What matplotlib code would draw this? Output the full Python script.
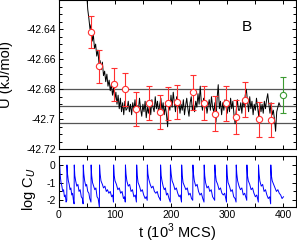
import matplotlib
matplotlib.use("Agg")
import matplotlib.pyplot as plt
import numpy as np
from matplotlib.ticker import MultipleLocator, FuncFormatter

plt.rcParams["font.family"] = ["Liberation Sans", "DejaVu Sans"]
plt.rcParams["mathtext.fontset"] = "custom"
plt.rcParams["mathtext.rm"] = "Liberation Sans"
plt.rcParams["axes.unicode_minus"] = False

# energy trace (top panel), t in 10^3 MCS
t_energy = np.arange(50, 396, 2)
u_energy = [
    -42.616, -42.627, -42.633, -42.640, -42.637, -42.648, -42.644, -42.653, -42.650, -42.658,
    -42.654, -42.663, -42.661, -42.667, -42.662, -42.671, -42.668, -42.675, -42.670, -42.678,
    -42.674, -42.681, -42.677, -42.684, -42.679, -42.687, -42.682, -42.690, -42.684, -42.693,
    -42.686, -42.695, -42.689, -42.697, -42.688, -42.694,
    -42.693, -42.688, -42.695, -42.690, -42.697, -42.689, -42.694, -42.687, -42.696, -42.691,
    -42.694, -42.686, -42.693, -42.698, -42.690, -42.695, -42.688, -42.699, -42.692, -42.696,
    -42.689, -42.697, -42.687, -42.692, -42.695, -42.685, -42.693, -42.688, -42.696, -42.690,
    -42.686, -42.694, -42.689, -42.697, -42.691, -42.697, -42.705, -42.690, -42.694, -42.684,
    -42.692, -42.682, -42.689, -42.695, -42.685, -42.693, -42.688, -42.696, -42.690, -42.694,
    -42.687, -42.697, -42.691, -42.686, -42.693, -42.698, -42.689, -42.685, -42.694, -42.690,
    -42.695, -42.688, -42.692, -42.683, -42.690, -42.678, -42.689, -42.694, -42.686, -42.693,
    -42.688, -42.696, -42.691, -42.687, -42.694, -42.685, -42.692, -42.695, -42.689, -42.702,
    -42.686, -42.677, -42.693, -42.688, -42.697, -42.689, -42.694, -42.687, -42.692, -42.696,
    -42.689, -42.695, -42.686, -42.693, -42.688, -42.697, -42.703, -42.694, -42.687, -42.694,
    -42.694, -42.689, -42.696, -42.687, -42.692, -42.684, -42.680, -42.688, -42.695, -42.685,
    -42.693, -42.688, -42.697, -42.690, -42.694, -42.686, -42.692, -42.698, -42.689, -42.695,
    -42.690, -42.696, -42.688, -42.693, -42.687, -42.683, -42.690, -42.696, -42.689, -42.697,
    -42.694, -42.700, -42.708, -42.695, -42.692, -42.689, -42.691,
]

# block averages with error bars
t_blocks = [57.4, 72.6, 98.4, 118.4, 138.1, 160.1, 180.9, 194.3, 211.2,
            238.3, 258.8, 279.0, 298.0, 315.5, 331.2, 356.1, 377.5]
u_blocks = [-42.6421, -42.6646, -42.6768, -42.6801, -42.6935, -42.6891, -42.6951, -42.6895,
            -42.6887, -42.6821, -42.6891, -42.6962, -42.6895, -42.6984, -42.6869, -42.7001,
            -42.7006]
err_blocks = [0.0106, 0.0110, 0.0112, 0.0112, 0.0113, 0.0115, 0.0113, 0.0112, 0.0114,
              0.0117, 0.0114, 0.0118, 0.0116, 0.0114, 0.0114, 0.0117, 0.0113]

t_final = [399.3]
u_final = [-42.6837]
err_final = [0.0121]

u_mean = -42.6912
u_sigma = 0.0116

# log autocorrelation (bottom panel)
t_corr = [
    0, 1.5,
    2, 3, 4.5, 6, 7.5, 9, 10.5, 12, 13.5, 14.7,
    15, 16, 17.5, 19, 20.5, 22, 23.5, 25, 26.5, 27.7,
    28, 29, 30.5, 32.5, 34.5, 36.5, 38.5, 40.5, 42.5, 43.7,
    44, 45, 46.5, 48.5, 50, 52, 54, 55.5, 57.7,
    58, 59, 60.5, 62.5, 64.5, 66.5, 68.5, 70.5, 72.7,
    73, 74, 75.5, 78, 80, 82.5, 85, 87, 89.5, 92, 94.5, 96.5, 97.7,
    98, 99, 100.5, 103, 105.5, 108, 110.5, 113, 115.5, 117.5, 118.7,
    119, 120, 121.5, 124, 126.5, 129, 131.5, 134, 136.5, 138.5,
    139, 140, 141.5, 144, 146.5, 149, 151.5, 154, 156, 157.7,
    158, 159, 160.5, 163, 165.5, 168, 170.5, 173, 175.5, 178, 180, 181.2,
    181.5, 182.5, 184, 186, 188, 190, 192, 194, 196.5, 198.7,
    199, 200.3, 202, 204.5, 207, 209.5, 212, 214.5, 216.5, 218.7,
    219, 220, 221.5, 224, 226.5, 229, 231.5, 234, 236.5, 238.7,
    239, 240, 241.5, 244, 246.5, 249, 251.5, 254, 256.5, 258.7,
    259, 260, 261.5, 264, 266.5, 269, 271.5, 274, 277.7,
    278, 279, 280.5, 283, 285.5, 288, 290.5, 293, 295.5, 298.7,
    299, 300, 301.5, 304, 306.5, 309, 311.5, 314, 315.7,
    316, 317, 318.5, 321, 323.5, 326, 328.5, 331, 334.7,
    335, 336, 337.5, 340, 342.5, 345, 347.5, 350, 352.5, 355.3,
    355.6, 356.6, 358, 360.5, 363, 365.5, 368, 370.5, 373, 375.5, 377.2,
    377.5, 378.5, 380, 382.5, 385, 387.5, 390, 392.5, 395, 397.5, 400,
]
logc_corr = [
    -1.3, -1.9,
    0.0, -0.6, -1.0, -1.2, -1.5, -1.4, -1.8, -1.7, -2.1, -2.0,
    0.0, -0.5, -0.9, -1.1, -1.4, -1.3, -1.7, -1.6, -2.0, -2.2,
    0.0, -0.6, -0.9, -1.2, -1.1, -1.5, -1.4, -1.8, -1.9, -2.2,
    0.0, -0.5, -0.9, -1.2, -1.1, -1.5, -1.6, -1.9, -2.1,
    0.0, -0.6, -1.0, -1.2, -1.4, -1.3, -1.8, -1.9, -2.4,
    0.0, -0.5, -0.9, -1.1, -1.3, -1.2, -1.5, -1.4, -1.6, -1.5, -1.8, -1.7, -2.1,
    0.0, -0.6, -0.9, -1.1, -1.4, -1.3, -1.6, -1.5, -1.9, -1.8, -2.1,
    0.0, -0.5, -0.9, -1.2, -1.1, -1.5, -1.4, -1.8, -1.7, -2.1,
    0.0, -0.6, -1.0, -1.2, -1.5, -1.4, -1.7, -1.9, -1.8, -2.0,
    0.0, -0.5, -0.8, -1.1, -1.3, -1.2, -1.5, -1.6, -1.5, -1.8, -1.9, -2.0,
    0.0, -0.6, -0.9, -1.2, -1.4, -1.3, -1.7, -1.6, -1.9, -2.1,
    0.0, -0.5, -0.9, -1.1, -1.4, -1.3, -1.6, -1.8, -1.7, -2.1,
    0.0, -0.6, -1.0, -1.2, -1.4, -1.3, -1.7, -1.6, -1.9, -2.0,
    0.0, -0.5, -0.9, -1.2, -1.1, -1.5, -1.7, -1.6, -1.9, -2.1,
    0.0, -0.6, -1.0, -1.3, -1.2, -1.5, -1.4, -1.8, -2.0,
    0.0, -0.5, -0.9, -1.1, -1.4, -1.3, -1.6, -1.7, -1.6, -2.1,
    0.0, -0.6, -1.0, -1.2, -1.5, -1.4, -1.8, -1.9, -2.1,
    0.0, -0.5, -0.9, -1.2, -1.4, -1.3, -1.7, -1.6, -2.0,
    0.0, -0.6, -0.9, -1.1, -1.4, -1.3, -1.6, -1.8, -1.7, -2.1,
    0.0, -0.5, -0.9, -1.2, -1.1, -1.5, -1.4, -1.7, -1.9, -1.8, -2.2,
    0.0, -0.6, -0.9, -1.1, -1.3, -1.5, -1.4, -1.6, -1.7, -1.9, -1.8,
]

RED = "#ff3030"
GREEN = "#3c9a32"
GRAY = "#555555"

fig = plt.figure(figsize=(2.97, 2.46), dpi=100)
ax_u = fig.add_axes([0.197, 0.393, 0.801, 0.605])
ax_c = fig.add_axes([0.197, 0.157, 0.801, 0.207])

for y in (u_mean + u_sigma, u_mean, u_mean - u_sigma):
    ax_u.axhline(y, color=GRAY, lw=0.9, zorder=1)
ax_u.plot(t_energy, u_energy, color="black", lw=0.7, zorder=2)
ax_u.errorbar(t_blocks, u_blocks, yerr=err_blocks, fmt="o", color=RED, mfc="white",
              mec=RED, ms=4.5, mew=0.8, elinewidth=0.8, capsize=2.2, capthick=0.8, zorder=3)
ax_u.errorbar(t_final, u_final, yerr=err_final, fmt="o", color=GREEN, mfc="white",
              mec=GREEN, ms=4.5, mew=0.8, elinewidth=0.8, capsize=2.2, capthick=0.8, zorder=3)
ax_u.text(0.79, 0.825, "B", transform=ax_u.transAxes, fontsize=11, ha="center", va="center")

ax_u.set_xlim(0, 423)
ax_u.set_ylim(-42.72, -42.621)
ax_u.set_ylabel("U (kJ/mol)", fontsize=10.5)
ax_u.yaxis.set_label_coords(-0.19, 0.5)
ax_u.yaxis.set_major_locator(MultipleLocator(0.02))
ax_u.yaxis.set_minor_locator(MultipleLocator(0.005))
ax_u.yaxis.set_major_formatter(FuncFormatter(lambda v, p: "%g" % round(v, 3)))
ax_u.tick_params(labelbottom=False)

ax_c.plot(t_corr, logc_corr, color="#0000ff", lw=0.7)
ax_c.set_xlim(0, 423)
ax_c.set_ylim(-2.4, 0.48)
ax_c.yaxis.set_major_locator(MultipleLocator(1))
ax_c.yaxis.set_minor_locator(MultipleLocator(0.5))
ax_c.yaxis.set_major_formatter(FuncFormatter(lambda v, p: "%g" % round(v)))
ax_c.set_ylabel("log C$_U$", fontsize=10.5)
ax_c.yaxis.set_label_coords(-0.086, 0.36)
ax_c.set_xlabel("t (10$^3$ MCS)", fontsize=10.5, labelpad=1)

for ax in (ax_u, ax_c):
    ax.xaxis.set_major_locator(MultipleLocator(100))
    ax.xaxis.set_minor_locator(MultipleLocator(50))
    ax.tick_params(which="both", direction="in", top=True, right=True, labelsize=7.5,
                   width=0.7, pad=2)
    ax.tick_params(which="major", length=3)
    ax.tick_params(which="minor", length=2)
    ax.tick_params(axis="x", which="minor", length=3)
    for s in ax.spines.values():
        s.set_linewidth(0.8)

fig.savefig("out.png", dpi=100)
